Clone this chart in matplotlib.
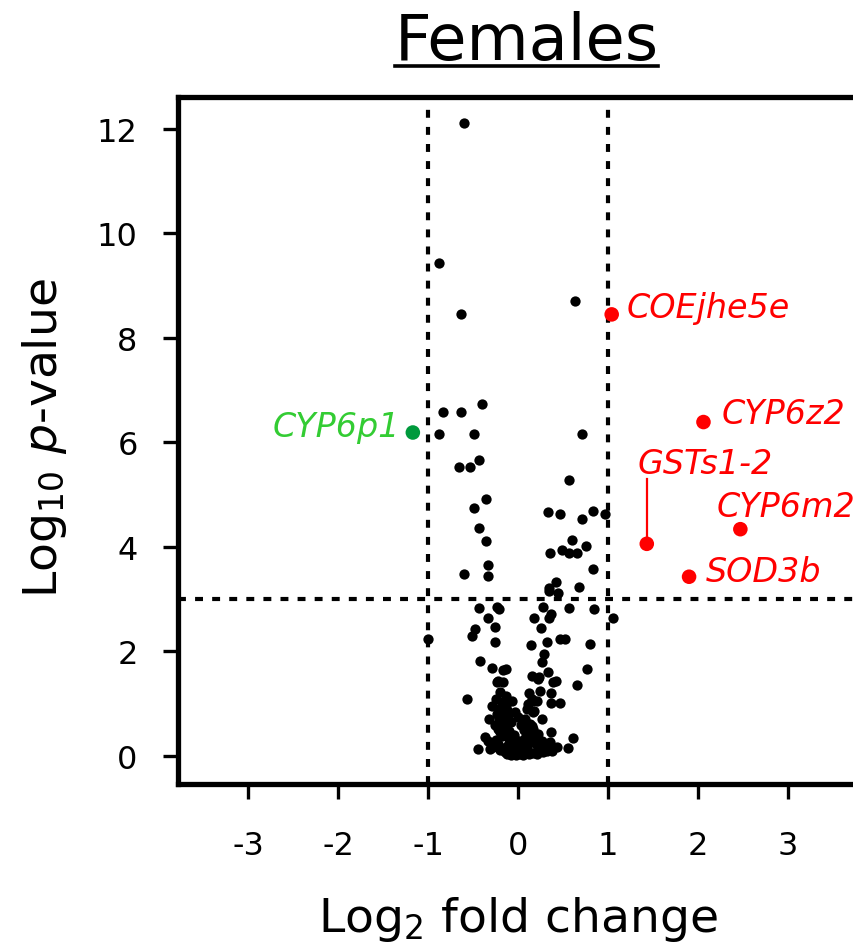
import numpy as np
import matplotlib
matplotlib.use("Agg")
import matplotlib.pyplot as plt
from matplotlib.lines import Line2D

plt.rcParams['font.family'] = ['DejaVu Sans']
plt.rcParams['mathtext.fontset'] = 'custom'
plt.rcParams['mathtext.rm'] = 'DejaVu Sans'
plt.rcParams['mathtext.it'] = 'DejaVu Sans:italic'

# background genes (log2 fold change, -log10 p)
fc_bg = [
    -0.60, -0.88, 0.63, -0.64,
    -0.40, -0.83, -0.64, -0.88, -0.49, 0.71,
    -0.43, -0.66, -0.54, 0.56,
    -0.36, -0.49, 0.33, 0.47, 0.83, 0.71, 0.97,
    -0.44, -0.36, 0.60, 0.49, 0.35, 0.56, 0.66, 0.75,
    -0.33, 0.83, -0.60, -0.34, 0.42, 0.34, 0.68, 0.34, 0.44,
    -0.44, -0.24, -0.21, -0.34, -0.48, -0.51, -0.26, -1.00, -0.26, -0.42, -0.29, -0.17, -0.22,
    0.28, 0.37, 0.34, 0.57, 0.84, 1.06, 0.18, 0.25, 0.14, 0.32, 0.47, 0.52, 0.80, 0.29, 0.26,
    -0.14, 0.33, 0.77, 0.15, 0.23, 0.42,
    -0.57, -0.24, -0.20, -0.29, -0.32, -0.37, -0.33, -0.45, -0.31,
    0.65, 0.39, 0.36, 0.36, 0.47, 0.17, 0.11, 0.17, 0.27, 0.22, -0.07, -0.18, -0.17,
    0.37, 0.61, 0.55, 0.15, 0.10,
    -0.14, -0.21, -0.11, 0.10, 0.15, 0.21, 0.18, 0.39, 0.32, 0.21,
    -0.26, -0.22, -0.20, -0.18, -0.25, -0.22, -0.28, -0.20, -0.15, -0.12, -0.08, -0.05, -0.02,
    0.02, 0.05, 0.08, 0.12, 0.16, 0.20, 0.25, 0.28, 0.33, 0.38, 0.43, 0.24,
    -0.16, -0.13, -0.10, -0.14, -0.10, -0.06, -0.12, -0.08, -0.03, 0.00, 0.04, 0.07,
    -0.18, -0.15, -0.20, -0.24, -0.12, -0.08, -0.05, -0.02, 0.01,
    0.05, 0.09, 0.12, 0.14, 0.18, 0.22, 0.13, 0.16, 0.19, 0.10, 0.26, 0.30, 0.35, 0.06, 0.03,
    0.00, -0.03, 0.08, -0.25, -0.13, 0.12, 0.24,
]
pv_bg = [
    12.11, 9.44, 8.71, 8.45,
    6.74, 6.58, 6.58, 6.16, 6.16, 6.16,
    5.66, 5.53, 5.53, 5.28,
    4.92, 4.74, 4.67, 4.63, 4.69, 4.54, 4.63,
    4.36, 4.12, 4.13, 3.95, 3.89, 3.89, 3.89, 4.01,
    3.66, 3.57, 3.49, 3.44, 3.32, 3.21, 3.23, 3.16, 3.12,
    2.83, 2.85, 2.82, 2.64, 2.43, 2.29, 2.46, 2.24, 2.19, 1.82, 1.68, 1.65, 1.44,
    2.85, 2.72, 2.65, 2.83, 2.81, 2.65, 2.64, 2.45, 2.12, 2.19, 2.23, 2.23, 2.15, 1.95, 1.79,
    1.67, 1.60, 1.67, 1.53, 1.51, 1.44,
    1.09, 1.41, 1.22, 0.96, 0.71, 0.36, 0.29, 0.13, 0.13,
    1.36, 1.42, 1.21, 1.01, 1.01, 1.06, 1.00, 0.84, 0.71, 1.47, 1.06, 1.03, 1.41,
    0.45, 0.34, 0.15, 0.58, 0.45,
    0.98, 0.72, 0.77, 0.90, 1.09, 1.06, 0.87, 0.17, 0.10, 0.04,
    0.60, 0.52, 0.45, 0.38, 0.30, 0.22, 0.18, 0.12, 0.08, 0.04, 0.02, 0.05, 0.01,
    0.03, 0.02, 0.05, 0.03, 0.06, 0.08, 0.12, 0.07, 0.14, 0.10, 0.17, 0.20,
    0.62, 0.55, 0.48, 0.40, 0.33, 0.27, 0.20, 0.14, 0.10, 0.16, 0.12, 0.18,
    0.85, 0.72, 0.92, 0.80, 0.88, 0.65, 0.40, 0.30, 0.22,
    0.30, 0.38, 0.28, 0.45, 0.35, 0.42, 0.62, 0.52, 0.24, 0.15, 0.28, 0.22, 0.26, 0.50, 0.60,
    0.75, 0.85, 0.70, 1.10, 1.15, 1.20, 1.25,
]

# highlighted genes
genes = ['COEjhe5e', 'CYP6z2', 'GSTs1-2', 'CYP6m2', 'SOD3b', 'CYP6p1']
fc_hi = [1.04, 2.06, 1.43, 2.47, 1.90, -1.17]
pv_hi = [8.45, 6.39, 4.06, 4.34, 3.43, 6.19]
dot_col = ['#ff0000'] * 5 + ['#009a3c']
txt_col = ['#ff0000'] * 5 + ['#33cc33']

xticks = [-3, -2, -1, 0, 1, 2, 3]
yticks = [0, 2, 4, 6, 8, 10, 12]

fig = plt.figure(figsize=(8.54, 9.45), dpi=100)
ax = fig.add_axes([178 / 854, 1 - 785 / 945, 1 - 178 / 854, (785 - 98) / 945])

ax.axvline(-1, color='k', lw=3, dashes=(1.9, 2.2), ymax=0.99)
ax.axvline(1, color='k', lw=3, dashes=(1.9, 2.2), ymax=0.99)
ax.axhline(3, color='k', lw=3, dashes=(1.9, 2.2))

ax.scatter(fc_bg, pv_bg, s=55, color='k', zorder=3, linewidths=0)
ax.scatter(fc_hi, pv_hi, s=110, c=dot_col, zorder=4, linewidths=0)

# label offsets (points) for each highlighted gene
offs = [(11, 5), (13, 6), (0, 0), (-17, 16), (12, 4), (-9, 4)]
for g, x, y, c, o in zip(genes, fc_hi, pv_hi, txt_col, offs):
    if g == 'GSTs1-2':
        ax.plot([x, x], [y, 5.30], color=c, lw=1.6, zorder=3)
        ax.text(2.08, 5.59, g, color=c, fontsize=24, style='italic',
                ha='center', va='center')
        continue
    ha = 'right' if g == 'CYP6p1' else 'left'
    ax.annotate(g, (x, y), xytext=o, textcoords='offset points',
                color=c, fontsize=24, style='italic', ha=ha, va='center')

ax.set_xlim(-3.78, 3.733)
ax.set_ylim(-0.536, 12.61)
ax.set_xticks(xticks)
ax.set_xticklabels([str(t) for t in xticks])
ax.set_yticks(yticks)
ax.set_yticklabels([str(t) for t in yticks])
ax.spines['right'].set_visible(False)
for s in ['left', 'bottom', 'top']:
    ax.spines[s].set_linewidth(3.8)
ax.tick_params(axis='both', length=11, width=2.4, labelsize=23)
ax.tick_params(axis='y', pad=18)
ax.tick_params(axis='x', pad=22)

fig.text(518 / 854, 1 - 932 / 945, r'Log$_{2}$ fold change', fontsize=34,
         ha='center', va='baseline')
fig.text(45 / 854, 1 - 438 / 945, r'Log$_{10}$ $\mathit{p}$-value', fontsize=34,
         ha='center', va='center', rotation=90)
fig.text(526.5 / 854, 1 - 60 / 945, 'Females', fontsize=46,
         ha='center', va='baseline')
fig.add_artist(Line2D([395 / 854, 658 / 854], [1 - 66.5 / 945, 1 - 66.5 / 945],
                      color='k', lw=2.6))

fig.savefig('out.png', dpi=100)
